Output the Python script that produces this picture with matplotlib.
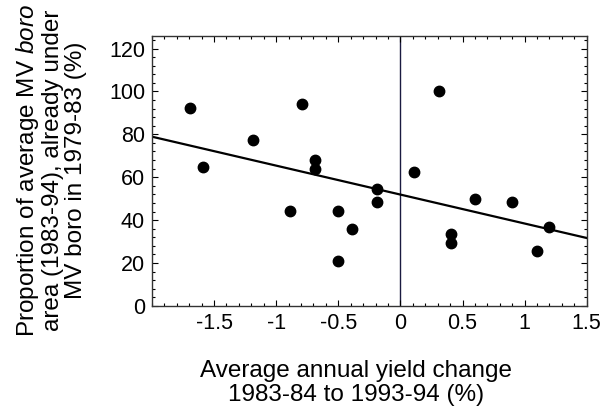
import numpy as np
from matplotlib import pyplot as plt
from matplotlib.ticker import MultipleLocator

plt.rcParams['font.family'] = ['Liberation Sans', 'DejaVu Sans']
plt.rcParams['mathtext.fontset'] = 'custom'
plt.rcParams['mathtext.rm'] = 'Liberation Sans'
plt.rcParams['mathtext.it'] = 'Liberation Sans:italic'

# points
yield_change = [-1.69, -1.59, -1.19, -0.89, -0.79, -0.69, -0.69, -0.50, -0.50, -0.39,
                -0.19, -0.19, 0.11, 0.31, 0.41, 0.41, 0.60, 0.90, 1.10, 1.20]
boro_share = [92.2, 64.9, 77.3, 44.1, 94.1, 67.9, 63.9, 44.2, 20.8, 35.9,
              54.5, 48.6, 62.3, 100.0, 33.7, 29.5, 49.7, 48.3, 25.5, 36.6]

# fitted line as drawn
intercept = 51.9
slope = -13.5

fig = plt.figure(figsize=(6.03, 4.15), dpi=100)
ax = fig.add_axes([0.252, 0.263, 0.721, 0.651])

ax.axvline(0, color='#1a1a40', lw=1.0, zorder=1)
xl = np.array([-2, 1.5])
ax.plot(xl, intercept + slope * xl, color='black', lw=1.6, zorder=2)
ax.plot(yield_change, boro_share, 'o', color='black', ms=7.5, zorder=3)

ax.set_xlim(-2, 1.5)
ax.set_ylim(0, 126)
ax.set_xticks([-1.5, -1, -0.5, 0, 0.5, 1, 1.5])
ax.set_xticklabels(['-1.5', '-1', '-0.5', '0', '0.5', '1', '1.5'])
ax.set_yticks([0, 20, 40, 60, 80, 100, 120])
ax.xaxis.set_minor_locator(MultipleLocator(0.1))
ax.yaxis.set_minor_locator(MultipleLocator(4))
ax.tick_params(which='both', direction='in', top=True, right=True, labelsize=15.5, pad=5)
ax.tick_params(which='major', length=4, width=0.8)
ax.tick_params(which='minor', length=2.5, width=0.8)
for s in ax.spines.values():
    s.set_linewidth(1.0)
    s.set_color('#333333')

ax.set_xlabel('Average annual yield change\n1983-84 to 1993-94 (%)', fontsize=17.5, linespacing=1.15)
ax.xaxis.set_label_coords(0.469, -0.2)
ax.set_ylabel('Proportion of average MV $\\it{boro}$\narea (1983-94), already under\nMV boro in 1979-83 (%)',
              fontsize=17.5, linespacing=1.05)
ax.yaxis.set_label_coords(-0.149, 0.5)

fig.savefig('out.png', dpi=100)
